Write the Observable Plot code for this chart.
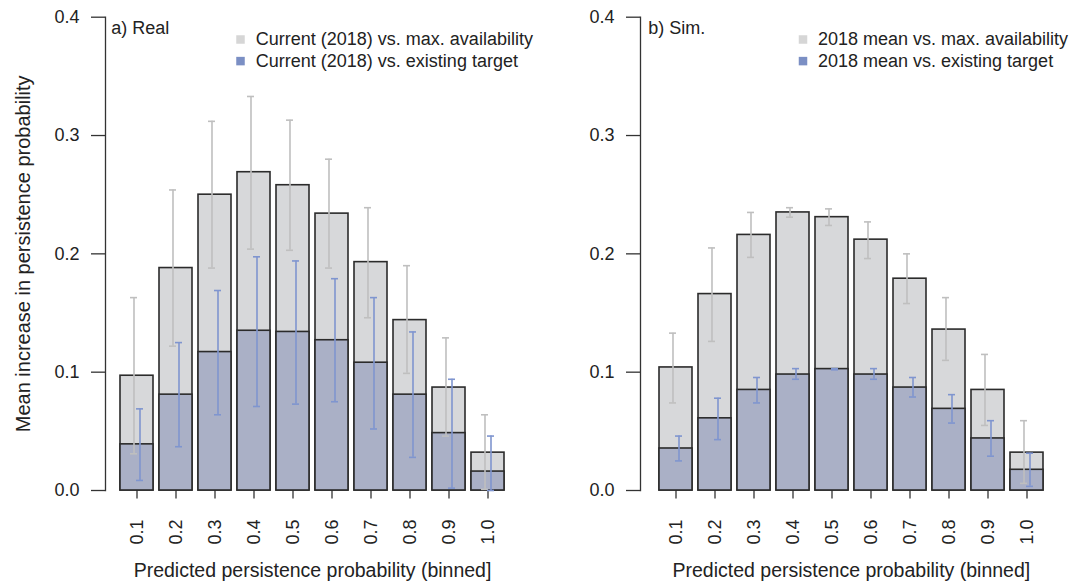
<!DOCTYPE html>
<html><head><meta charset="utf-8">
<script src="https://cdn.jsdelivr.net/npm/d3@7"></script>
<script src="https://cdn.jsdelivr.net/npm/@observablehq/plot@0.6"></script>
<style>
body{margin:0;background:#fff;}
#wrap{position:relative;width:1074px;height:585px;font-family:"Liberation Sans",Arial,sans-serif;}
#a,#b{position:absolute;top:0;}
#a{left:0}#b{left:537px}
</style></head><body><div id="wrap"><div id="a"></div><div id="b"></div></div>
<script>
const bins = ["0.1","0.2","0.3","0.4","0.5","0.6","0.7","0.8","0.9","1.0"];
const yTicks = [0, 0.1, 0.2, 0.3, 0.4];

// Panel a) Real
const realMax      = [0.097, 0.188, 0.250, 0.269, 0.258, 0.234, 0.193, 0.144, 0.087, 0.032];
const realMaxLo    = [0.031, 0.122, 0.188, 0.204, 0.203, 0.188, 0.146, 0.099, 0.046, 0.001];
const realMaxHi    = [0.163, 0.254, 0.312, 0.333, 0.313, 0.280, 0.239, 0.190, 0.129, 0.064];
const realTarget   = [0.039, 0.081, 0.117, 0.135, 0.134, 0.127, 0.108, 0.081, 0.0485, 0.016];
const realTargetLo = [0.0085, 0.037, 0.064, 0.071, 0.073, 0.075, 0.052, 0.028, 0.002, 0.0];
const realTargetHi = [0.069, 0.125, 0.169, 0.1975, 0.194, 0.179, 0.163, 0.134, 0.094, 0.046];

// Panel b) Sim.
const simMax      = [0.104, 0.166, 0.216, 0.235, 0.231, 0.212, 0.179, 0.136, 0.085, 0.032];
const simMaxLo    = [0.074, 0.126, 0.197, 0.231, 0.224, 0.196, 0.158, 0.110, 0.055, 0.006];
const simMaxHi    = [0.133, 0.205, 0.235, 0.239, 0.238, 0.227, 0.200, 0.163, 0.115, 0.059];
const simTarget   = [0.0355, 0.061, 0.085, 0.098, 0.1026, 0.098, 0.087, 0.069, 0.044, 0.0175];
const simTargetLo = [0.025, 0.043, 0.074, 0.094, 0.102, 0.094, 0.079, 0.057, 0.029, 0.0035];
const simTargetHi = [0.046, 0.078, 0.0955, 0.103, 0.103, 0.103, 0.0955, 0.081, 0.059, 0.0315];

const legendReal = ["Current (2018) vs. max. availability", "Current (2018) vs. existing target"];
const legendSim  = ["2018 mean vs. max. availability", "2018 mean vs. existing target"];
const legendColors = ["#d6d6d6", "#7b8fc4"];
const yTitle = "Mean increase in persistence probability";
const xTitle = "Predicted persistence probability (binned]";

const FONT = '"Liberation Sans", Arial, Helvetica, sans-serif';
const INK = "#222";

function panel(o) {
  const data = bins.map((bin, i) => ({
    bin, max: o.max[i], maxLo: o.maxLo[i], maxHi: o.maxHi[i],
    target: o.target[i], targetLo: o.targetLo[i], targetHi: o.targetHi[i]
  }));
  const capInset = 13;
  const errOff = 3;
  const marks = [
    Plot.frame({anchor: "left", dx: o.axDx, stroke: "#333", strokeWidth: 1.3}),
    Plot.axisY({ticks: yTicks, tickFormat: d => d.toFixed(1), tickSize: 14, tickPadding: 12,
      dx: o.axDx, fontSize: 18, stroke: "#333", strokeWidth: 1.3, fill: INK, label: null}),
    Plot.axisX({tickRotate: -90, tickSize: 8.5, tickPadding: 20.5, fontSize: 18,
      stroke: "#333", strokeWidth: 1.3, fill: INK, label: null}),
    Plot.barY(data, {x: "bin", y: "max", fill: "#d7d8da", stroke: "#2b2b2b", strokeWidth: 1.6}),
    Plot.barY(data, {x: "bin", y: "target", fill: "#aab0c6", stroke: "#2b2b2b", strokeWidth: 1.6}),
    Plot.ruleX(data, {x: "bin", y1: "maxLo", y2: "maxHi", dx: -errOff, stroke: "#bfbfbf", strokeWidth: 1.6}),
    Plot.tickY(data, {x: "bin", y: "maxLo", dx: -errOff, insetLeft: capInset, insetRight: capInset, stroke: "#bfbfbf", strokeWidth: 1.6}),
    Plot.tickY(data, {x: "bin", y: "maxHi", dx: -errOff, insetLeft: capInset, insetRight: capInset, stroke: "#bfbfbf", strokeWidth: 1.6}),
    Plot.ruleX(data, {x: "bin", y1: "targetLo", y2: "targetHi", dx: errOff, stroke: "#7f95cf", strokeWidth: 1.6}),
    Plot.tickY(data, {x: "bin", y: "targetLo", dx: errOff, insetLeft: capInset, insetRight: capInset, stroke: "#7f95cf", strokeWidth: 1.6}),
    Plot.tickY(data, {x: "bin", y: "targetHi", dx: errOff, insetLeft: capInset, insetRight: capInset, stroke: "#7f95cf", strokeWidth: 1.6}),
    Plot.text([o.tag], {frameAnchor: "top-left", dx: o.tagDx, dy: 11.3, textAnchor: "start", lineAnchor: "middle", fontSize: 18, fill: INK}),
    Plot.text([xTitle], {frameAnchor: "bottom", dy: 80, fontSize: 19.5, lineAnchor: "middle", fill: INK})
  ];
  o.legend.forEach((lab, i) => {
    marks.push(Plot.dot([lab], {frameAnchor: "top-left", dx: o.legSqDx, dy: 22.3 + 21.6 * i, symbol: "square", r: 4.8, fill: legendColors[i]}));
    marks.push(Plot.text([lab], {frameAnchor: "top-left", dx: o.legTxDx, dy: 22.3 + 21.6 * i, textAnchor: "start", lineAnchor: "middle", fontSize: 18, fill: INK}));
  });
  if (o.yTitle) {
    marks.push(Plot.text([o.yTitle], {frameAnchor: "left", dx: 23 - o.marginLeft, rotate: -90, textAnchor: "middle", lineAnchor: "middle", fontSize: 20, fill: INK}));
  }
  return Plot.plot({
    width: 537, height: 585,
    marginTop: 16.7, marginBottom: 95, marginLeft: o.marginLeft, marginRight: o.marginRight,
    style: {fontFamily: FONT, fontSize: "18px", color: INK, background: "transparent", overflow: "visible"},
    x: {domain: bins, paddingInner: o.pad, paddingOuter: 0, label: null},
    y: {domain: [0, 0.4], label: null},
    marks
  });
}

document.getElementById("a").appendChild(panel({
  max: realMax, maxLo: realMaxLo, maxHi: realMaxHi,
  target: realTarget, targetLo: realTargetLo, targetHi: realTargetHi,
  tag: "a) Real", tagDx: -8.6, legend: legendReal, legSqDx: 120.7, legTxDx: 136,
  yTitle: yTitle, marginLeft: 119.3, marginRight: 32.3, axDx: -14.3, pad: 0.156
}));
document.getElementById("b").appendChild(panel({
  max: simMax, maxLo: simMaxLo, maxHi: simMaxHi,
  target: simTarget, targetLo: simTargetLo, targetHi: simTargetHi,
  tag: "b) Sim.", tagDx: -8.3, legend: legendSim, legSqDx: 146.5, legTxDx: 161.5,
  yTitle: null, marginLeft: 119, marginRight: 28.3, axDx: -16, pad: 0.158
}));
</script></body></html>
